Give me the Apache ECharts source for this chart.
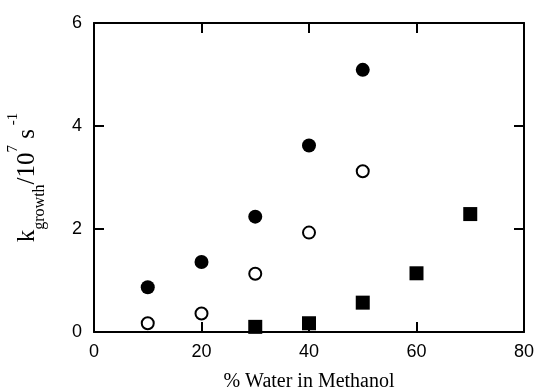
<!DOCTYPE html>
<html>
<head>
<meta charset="utf-8">
<script src="https://cdn.jsdelivr.net/npm/echarts@6/dist/echarts.min.js"></script>
<style>
  html, body { margin: 0; padding: 0; background: #fff; }
  #chart { width: 537px; height: 388px; }
</style>
</head>
<body>
<div id="chart"></div>
<script>
// % water in methanol for each series
const waterFilled = [10, 20, 30, 40, 50];
const waterOpen = [10, 20, 30, 40, 50];
const waterSquare = [30, 40, 50, 60, 70];
// growth rate constants, units of 10^7 s^-1
const kFilled = [0.87, 1.36, 2.24, 3.62, 5.09];
const kOpen = [0.17, 0.36, 1.13, 1.93, 3.12];
const kSquare = [0.10, 0.17, 0.57, 1.14, 2.29];

const pairs = (xs, ys) => xs.map((x, i) => [x, ys[i]]);

const chart = echarts.init(document.getElementById('chart'), null, { renderer: 'canvas' });

const serif = 'Liberation Serif, Times New Roman, serif';
const tickFont = { fontFamily: 'Liberation Sans, Arial, sans-serif', fontSize: 18, color: '#000' };
const line = { show: true, onZero: false, lineStyle: { color: '#000', width: 2 } };
const ticks = { show: true, inside: true, length: 10, lineStyle: { color: '#000', width: 2 } };

chart.setOption({
  animation: false,
  backgroundColor: '#fff',
  grid: { left: 94, top: 23, right: 13, bottom: 56, containLabel: false, outerBoundsMode: 'none' },
  xAxis: [
    {
      type: 'value', min: 0, max: 80, interval: 20, position: 'bottom',
      axisLine: line, axisTick: ticks, splitLine: { show: false },
      axisLabel: Object.assign({ margin: 11 }, tickFont),
      name: '% Water in Methanol', nameLocation: 'middle', nameGap: 40,
      nameTextStyle: { fontFamily: serif, fontSize: 20, color: '#000' }
    },
    {
      type: 'value', min: 0, max: 80, interval: 20, position: 'top',
      axisLine: line, axisTick: ticks, splitLine: { show: false },
      axisLabel: { show: false }
    }
  ],
  yAxis: [
    {
      type: 'value', min: 0, max: 6, interval: 2, position: 'left',
      axisLine: line, axisTick: ticks, splitLine: { show: false },
      axisLabel: Object.assign({ margin: 12 }, tickFont),
      name: '{k|k}{sub|growth}{k|/10}{sup|7}{k| s}{sup| -1}',
      nameLocation: 'middle', nameGap: 50, nameRotate: 90,
      nameTextStyle: {
        color: '#000',
        fontFamily: serif,
        rich: {
          k: { fontFamily: serif, fontSize: 25, color: '#000', verticalAlign: 'middle', lineHeight: 34 },
          sub: { fontFamily: serif, fontSize: 16, color: '#000', verticalAlign: 'bottom', lineHeight: 34, padding: [0, 0, -4, 0] },
          sup: { fontFamily: serif, fontSize: 15, color: '#000', verticalAlign: 'top', lineHeight: 34, padding: [-4, 0, 0, 0] }
        }
      }
    },
    {
      type: 'value', min: 0, max: 6, interval: 2, position: 'right',
      axisLine: line, axisTick: ticks, splitLine: { show: false },
      axisLabel: { show: false }
    }
  ],
  series: [
    {
      type: 'scatter', data: pairs(waterFilled, kFilled),
      symbol: 'circle', symbolSize: 14,
      itemStyle: { color: '#000', opacity: 1 }
    },
    {
      type: 'scatter', data: pairs(waterOpen, kOpen),
      symbol: 'circle', symbolSize: 12,
      itemStyle: { color: '#fff', borderColor: '#000', borderWidth: 2, opacity: 1 }
    },
    {
      type: 'scatter', data: pairs(waterSquare, kSquare),
      symbol: 'rect', symbolSize: 14,
      itemStyle: { color: '#000', opacity: 1 }
    }
  ]
});
</script>
</body>
</html>
